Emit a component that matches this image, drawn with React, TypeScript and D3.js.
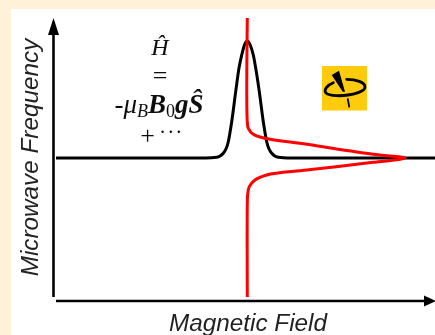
import React from "react";
import * as d3 from "d3";

const W = 435;
const H = 335;

// black absorption line
const absField = [0, 150, 160.7, 167.3, 172.3, 175.7, 179.7, 183, 185.7, 188.8, 191.3, 193.8, 197.3, 199.7, 203.3, 207.3, 210.7, 215.7, 222.3, 232, 379];
const absSignal = [0, 0, 0.006, 0.04, 0.139, 0.31, 0.567, 0.769, 0.88, 0.974, 1, 0.974, 0.88, 0.769, 0.567, 0.31, 0.139, 0.04, 0.006, 0, 0];

// red dispersion line (signal runs top to bottom, field is the swing to the right)
const dispField = [191.3, 191.3, 192.3, 197.3, 209, 250.7, 317, 349, 317, 250.7, 210.7, 199, 193.3, 191.7, 191.3, 191.3];
const dispSignal = [1.197, 0.31, 0.254, 0.203, 0.169, 0.117, 0.032, 0, -0.037, -0.103, -0.145, -0.188, -0.245, -0.31, -0.4, -1.188];

const xLabel = "Magnetic Field";
const yLabel = "Microwave Frequency";

const x = d3.scaleLinear().domain([0, 379]).range([56, 435]);
const y = d3.scaleLinear().domain([-1, 1]).range([275, 41]);

const absLine = d3
  .line<[number, number]>()
  .x((d) => x(d[0]))
  .y((d) => y(d[1]))
  .curve(d3.curveMonotoneX);

const dispLine = d3
  .line<[number, number]>()
  .x((d) => x(d[0]))
  .y((d) => y(d[1]))
  .curve(d3.curveCatmullRom.alpha(0.5));

const absPath = absLine(absField.map((f, i) => [f, absSignal[i]] as [number, number])) || "";
const dispPath = dispLine(dispField.map((f, i) => [f, dispSignal[i]] as [number, number])) || "";

const serif = "'Liberation Serif', serif";

export default function App() {
  return (
    <svg
      width={W}
      height={H}
      style={{ position: "absolute", left: 0, top: 0 }}
      fontFamily="'Liberation Sans', Arial, sans-serif"
    >
      <defs>
        <filter id="soft" x="-5%" y="-5%" width="110%" height="110%">
          <feGaussianBlur stdDeviation="0.45" />
        </filter>
      </defs>
      <rect width={W} height={H} fill="#fff2d8" />
      <rect x={11} y={9} width={W - 11} height={H - 9} fill="#fff" />

      <g filter="url(#soft)">
        {/* axes */}
        <line x1={53.5} x2={53.5} y1={30} y2={297} stroke="#000" strokeWidth={2.6} />
        <path d="M53.5,18 L59,35 L48,35 Z" fill="#000" />
        <line x1={56} x2={428} y1={301} y2={301} stroke="#000" strokeWidth={2.6} />
        <path d="M436,301 L424,295.5 L424,306.5 Z" fill="#000" />

        <path d={absPath} fill="none" stroke="#000" strokeWidth={3} />
        <path d={dispPath} fill="none" stroke="#f00" strokeWidth={3} />

        <text x={248} y={331} textAnchor="middle" fontSize={24.3} fontStyle="italic" fill="#222">
          {xLabel}
        </text>
        <text
          transform="translate(38,157.5) rotate(-90)"
          textAnchor="middle"
          fontSize={24.3}
          fontStyle="italic"
          fill="#222"
        >
          {yLabel}
        </text>

        {/* equation */}
        <g fontFamily={serif} fill="#111" textAnchor="middle">
          <text x={160} y={55} fontSize={24} fontStyle="italic">Ĥ</text>
          <text x={160} y={84} fontSize={26}>=</text>
          <text x={159} y={113} fontSize={27}>
            <tspan>-</tspan>
            <tspan fontStyle="italic">μ</tspan>
            <tspan fontStyle="italic" fontSize={18} dy={4}>B</tspan>
            <tspan fontStyle="italic" fontWeight="bold" dy={-4}>B</tspan>
            <tspan fontSize={18} dy={4}>0</tspan>
            <tspan fontStyle="italic" fontWeight="bold" dy={-4}>gŜ</tspan>
          </text>
          <text x={147.5} y={143.5} fontSize={26}>+</text>
          <text x={171.5} y={139} fontSize={20} letterSpacing={1.5}>···</text>
        </g>

        {/* logo */}
        <rect x={322} y={66} width={45} height={44.5} fill="#ffcc0d" />
        <path d="M331.7,75 L339,70.7 L345,91.7 L342.7,91.7 Z" fill="#000" />
        <path
          d="M333.3,82.7 C327,85 323.5,90 326,93 C330,96.5 342,96 348,95 C356,94 365,91 365,87 C365,82 356,79.5 346.7,79.3"
          fill="none"
          stroke="#000"
          strokeWidth={2.8}
          strokeLinecap="round"
        />
        <line x1={347.7} y1={98.3} x2={349.3} y2={107.3} stroke="#000" strokeWidth={1.8} />
      </g>
    </svg>
  );
}
